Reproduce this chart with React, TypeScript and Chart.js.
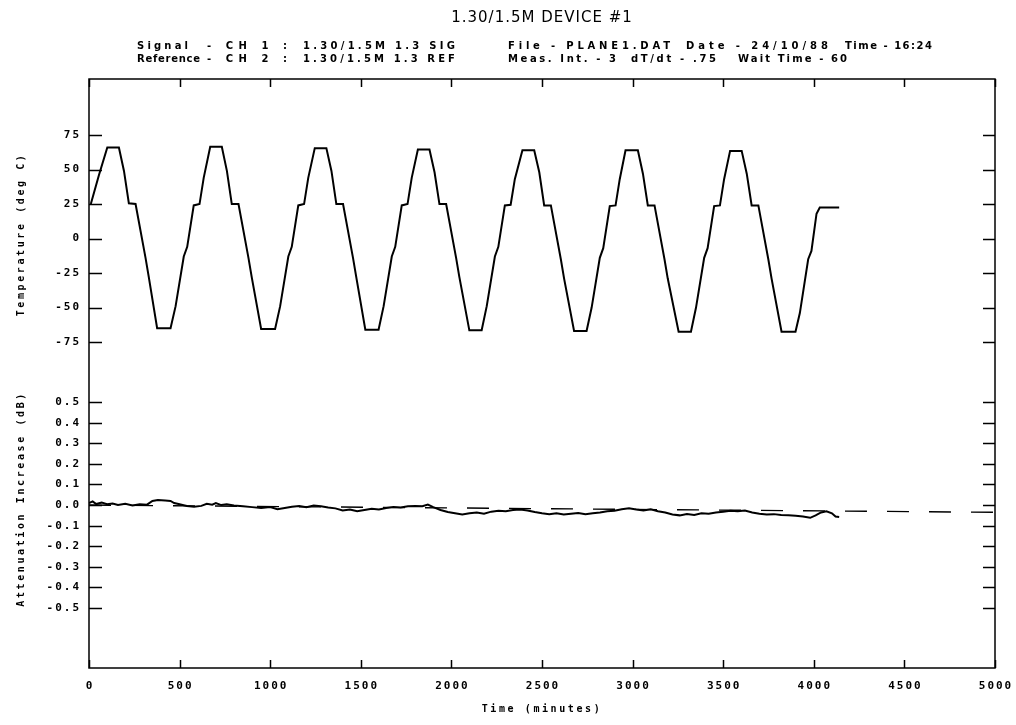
import React, { useEffect, useRef } from "react";
import { Chart, registerables } from "chart.js";

Chart.register(...registerables);

// ---------- data ----------
const tempTime = [
  10, 55, 101, 165, 193, 220, 257, 312, 330, 376, 450, 478, 523, 542, 578, 610, 633,
  669, 733, 761, 788, 825, 880, 898, 950, 1027, 1055, 1100, 1119, 1155, 1187, 1210,
  1246, 1310, 1338, 1365, 1402, 1457, 1475, 1525, 1598, 1626, 1671, 1690, 1726, 1758, 1781,
  1815, 1879, 1907, 1934, 1971, 2026, 2044, 2099, 2167, 2195, 2240, 2259, 2295, 2327, 2350,
  2392, 2457, 2485, 2512, 2549, 2604, 2622, 2677, 2746, 2774, 2819, 2838, 2874, 2906, 2929,
  2961, 3029, 3057, 3084, 3121, 3176, 3194, 3254, 3322, 3350, 3395, 3414, 3450, 3482, 3505,
  3538, 3602, 3630, 3657, 3694, 3749, 3767, 3822, 3899, 3923, 3969, 3987, 4015, 4033, 4140,
];
const tempValue = [
  25, 46, 66, 66, 49, 25.5, 25, -14, -28, -65, -65, -49, -13, -6, 24, 25, 44,
  66.5, 66.5, 49, 25, 25, -14, -28, -65.5, -65.5, -49, -13, -6, 24, 25, 44,
  65.5, 65.5, 49, 25, 25, -14, -28, -66, -66, -49, -13, -6, 24, 25, 44,
  64.5, 64.5, 48, 25, 25, -14, -28, -66.5, -66.5, -49, -13, -6, 24, 24.5, 43,
  64, 64, 48, 24, 24, -15, -29, -67, -67, -50, -14, -7, 23.5, 24, 43,
  64, 64, 47, 24, 24, -15, -29, -67.5, -67.5, -50, -14, -7, 23.5, 24, 43,
  63.5, 63.5, 47, 24, 24, -15, -29, -67.5, -67.5, -54, -15, -9, 18, 22.5, 22.5,
];

const attTime = [
  0, 20, 40, 70, 100, 130, 160, 200, 240, 280, 320, 350, 380, 420, 450, 470, 500, 540, 580,
  620, 650, 680, 700, 730, 760, 800, 850, 900, 950, 1000, 1040, 1080, 1120, 1160, 1200, 1240,
  1280, 1320, 1360, 1400, 1440, 1480, 1520, 1560, 1600, 1640, 1680, 1720, 1760, 1800, 1840,
  1870, 1900, 1940, 1980, 2020, 2060, 2100, 2140, 2180, 2220, 2260, 2300, 2340, 2380, 2420,
  2460, 2500, 2540, 2580, 2620, 2660, 2700, 2740, 2780, 2820, 2860, 2900, 2940, 2980, 3020,
  3060, 3100, 3140, 3180, 3220, 3260, 3300, 3340, 3380, 3420, 3460, 3500, 3540, 3580, 3620,
  3660, 3700, 3740, 3780, 3820, 3860, 3900, 3940, 3980, 4010, 4040, 4070, 4100, 4120, 4140,
];
const attValue = [
  0.010, 0.018, 0.005, 0.012, 0.004, 0.008, 0.000, 0.006, -0.002, 0.004, 0.002, 0.020, 0.024,
  0.022, 0.020, 0.010, 0.004, -0.004, -0.008, -0.004, 0.006, 0.002, 0.010, 0.000, 0.004, -0.002,
  -0.006, -0.010, -0.014, -0.010, -0.020, -0.014, -0.008, -0.004, -0.010, -0.002, -0.006, -0.012,
  -0.016, -0.026, -0.022, -0.030, -0.024, -0.018, -0.022, -0.014, -0.010, -0.012, -0.006, -0.004,
  -0.006, 0.002, -0.010, -0.024, -0.034, -0.040, -0.046, -0.040, -0.036, -0.042, -0.032, -0.028,
  -0.030, -0.024, -0.022, -0.026, -0.034, -0.040, -0.044, -0.040, -0.046, -0.042, -0.038, -0.044,
  -0.040, -0.036, -0.030, -0.028, -0.020, -0.016, -0.022, -0.026, -0.020, -0.030, -0.036, -0.046,
  -0.050, -0.044, -0.048, -0.040, -0.042, -0.036, -0.032, -0.028, -0.030, -0.026, -0.036, -0.042,
  -0.046, -0.044, -0.048, -0.050, -0.052, -0.056, -0.062, -0.050, -0.036, -0.030, -0.040, -0.056,
  -0.058,
];

const trendTime = [0, 5000];
const trendValue = [0.0, -0.035];

const xTicks = [0, 500, 1000, 1500, 2000, 2500, 3000, 3500, 4000, 4500, 5000];
const xTickLabels = ["0", "500", "1000", "1500", "2000", "2500", "3000", "3500", "4000", "4500", "5000"];
const tempTicks = [-75, -50, -25, 0, 25, 50, 75];
const tempTickLabels = ["-75", "-50", "-25", "0", "25", "50", "75"];
const attTicks = [-0.5, -0.4, -0.3, -0.2, -0.1, 0, 0.1, 0.2, 0.3, 0.4, 0.5];
const attTickLabels = ["-0.5", "-0.4", "-0.3", "-0.2", "-0.1", "0.0", "0.1", "0.2", "0.3", "0.4", "0.5"];

const titleText = "1.30/1.5M DEVICE #1";
const headerRow1 = ["Signal", "- CH 1 :", "1.30/1.5M 1.3 SIG", "File - PLANE1.DAT", "Date - 24/10/88", "Time - 16:24"];
const headerRow2 = ["Reference", "- CH 2 :", "1.30/1.5M 1.3 REF", "Meas. Int. - 3", "dT/dt - .75", "Wait Time - 60"];
const xTitle = "Time (minutes)";
const tempTitle = "Temperature (deg C)";
const attTitle = "Attenuation Increase (dB)";

// text spans [start, end] in pixels (layout only)
const headerSpans1 = [[137, 188], [207, 287], [303, 455], [508, 670], [686, 828], [845, 932]];
const headerSpans2 = [[137, 200], [207, 287], [303, 455], [508, 616], [631, 716], [738, 847]];

const toPoints = (xs: number[], ys: number[]) => xs.map((x, i) => ({ x, y: ys[i] }));

const FONT = "'DejaVu Sans Mono', 'Liberation Mono', monospace";

function fitText(ctx: CanvasRenderingContext2D, s: string, x0: number, x1: number, y: number) {
  (ctx as any).letterSpacing = "0px";
  const w = ctx.measureText(s).width;
  const ls = s.length > 1 ? (x1 - x0 - w) / (s.length - 1) : 0;
  (ctx as any).letterSpacing = `${ls.toFixed(2)}px`;
  ctx.textAlign = "left";
  ctx.fillText(s, x0, y);
}

const decorPlugin = {
  id: "decor",
  afterDraw(chart: any) {
    const ctx = chart.ctx as CanvasRenderingContext2D;
    const a = chart.chartArea;
    const sx = chart.scales.x;
    const yT = chart.scales.yT;
    const yA = chart.scales.yA;
    ctx.save();
    ctx.strokeStyle = "#000";
    ctx.fillStyle = "#000";
    ctx.lineWidth = 1.5;
    ctx.strokeRect(a.left, a.top, a.right - a.left, a.bottom - a.top);

    ctx.beginPath();
    xTicks.forEach((v) => {
      const px = Math.round(sx.getPixelForValue(v)) + 0.5;
      ctx.moveTo(px, a.bottom);
      ctx.lineTo(px, a.bottom - 8);
      ctx.moveTo(px, a.top);
      ctx.lineTo(px, a.top + 8);
    });
    const yTick = (scale: any, v: number) => {
      const py = Math.round(scale.getPixelForValue(v)) + 0.5;
      ctx.moveTo(a.left, py);
      ctx.lineTo(a.left + 13, py);
      ctx.moveTo(a.right - 12, py);
      ctx.lineTo(a.right, py);
    };
    tempTicks.forEach((v) => yTick(yT, v));
    attTicks.forEach((v) => yTick(yA, v));
    ctx.stroke();

    (ctx as any).letterSpacing = "2px";
    ctx.font = `bold 11px ${FONT}`;
    ctx.textBaseline = "middle";
    ctx.textAlign = "center";
    xTicks.forEach((v, i) => {
      ctx.fillText(xTickLabels[i], sx.getPixelForValue(v) + 1, 686);
    });
    ctx.textAlign = "right";
    tempTicks.forEach((v, i) => {
      ctx.fillText(tempTickLabels[i], a.left - 8, yT.getPixelForValue(v));
    });
    attTicks.forEach((v, i) => {
      ctx.fillText(attTickLabels[i], a.left - 8, yA.getPixelForValue(v));
    });

    // axis titles
    ctx.font = `bold 10px ${FONT}`;
    (ctx as any).letterSpacing = "2.6px";
    ctx.textAlign = "center";
    ctx.fillText(xTitle, (a.left + a.right) / 2, 709);
    ctx.save();
    ctx.translate(21, yT.getPixelForValue(3));
    ctx.rotate(-Math.PI / 2);
    ctx.fillText(tempTitle, 0, 0);
    ctx.restore();
    ctx.save();
    ctx.translate(21, yA.getPixelForValue(0.03));
    ctx.rotate(-Math.PI / 2);
    ctx.fillText(attTitle, 0, 0);
    ctx.restore();

    // title
    (ctx as any).letterSpacing = "1px";
    ctx.font = `15px 'DejaVu Sans', sans-serif`;
    ctx.textAlign = "center";
    ctx.fillText(titleText, (a.left + a.right) / 2, 18);

    // header
    ctx.font = `bold 10px 'DejaVu Sans', sans-serif`;
    headerRow1.forEach((s, i) => fitText(ctx, s, headerSpans1[i][0], headerSpans1[i][1], 46));
    headerRow2.forEach((s, i) => fitText(ctx, s, headerSpans2[i][0], headerSpans2[i][1], 59));
    ctx.restore();
  },
};

export default function App() {
  const ref = useRef<HTMLCanvasElement | null>(null);
  useEffect(() => {
    if (!ref.current) return;
    const hidden = { display: false };
    const chart = new Chart(ref.current, {
      type: "line",
      data: {
        datasets: [
          {
            label: "Temperature",
            data: toPoints(tempTime, tempValue),
            yAxisID: "yT",
            borderColor: "#000",
            borderWidth: 2,
            pointRadius: 0,
            tension: 0,
          },
          {
            label: "Attenuation",
            data: toPoints(attTime, attValue),
            yAxisID: "yA",
            borderColor: "#000",
            borderWidth: 2,
            pointRadius: 0,
            tension: 0,
          },
          {
            label: "Reference",
            data: toPoints(trendTime, trendValue),
            yAxisID: "yA",
            borderColor: "#000",
            borderWidth: 1.4,
            borderDash: [22, 20],
            pointRadius: 0,
            tension: 0,
          },
        ],
      },
      options: {
        responsive: false,
        animation: false,
        devicePixelRatio: 1,
        layout: { padding: { top: 79, right: 21, left: 0, bottom: 0 } },
        plugins: { legend: hidden, title: hidden, tooltip: { enabled: false } },
        scales: {
          x: {
            type: "linear",
            position: "bottom",
            min: 0,
            max: 5000,
            ticks: hidden,
            grid: hidden,
            border: hidden,
            afterFit: (s: any) => {
              s.height = 57;
            },
          },
          yT: {
            type: "linear",
            position: "left",
            stack: "v",
            stackWeight: 293,
            weight: 2,
            min: -96.7,
            max: 115.6,
            ticks: hidden,
            grid: hidden,
            border: hidden,
            afterFit: (s: any) => {
              s.width = 89;
            },
          },
          yA: {
            type: "linear",
            position: "left",
            stack: "v",
            stackWeight: 296,
            weight: 1,
            min: -0.791,
            max: 0.646,
            ticks: hidden,
            grid: hidden,
            border: hidden,
            afterFit: (s: any) => {
              s.width = 89;
            },
          },
        },
      } as any,
      plugins: [decorPlugin],
    });
    return () => chart.destroy();
  }, []);
  return (
    <div style={{ position: "absolute", left: 0, top: 0, width: 1016, height: 725, background: "#fff" }}>
      <canvas ref={ref} width={1016} height={725} style={{ display: "block" }} />
    </div>
  );
}
